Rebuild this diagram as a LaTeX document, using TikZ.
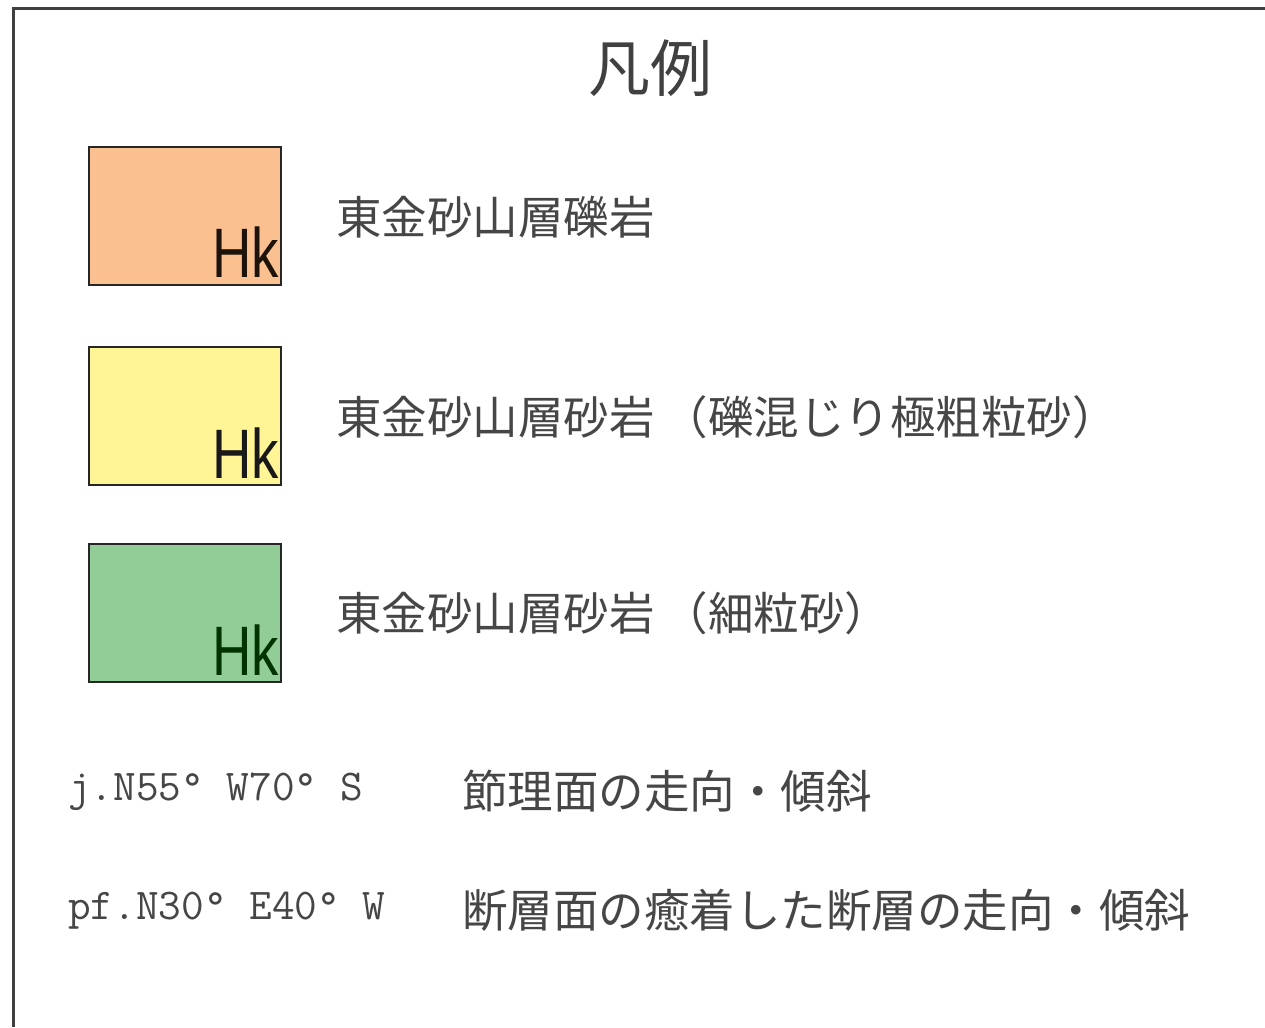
\documentclass[tikz,border=0pt]{standalone}
\usepackage{fontspec}
\usepackage{tikz}
\usetikzlibrary{positioning}
\newfontfamily\jpfont{Noto Sans CJK JP}
\newfontfamily\hkfont[FakeStretch=0.78]{Liberation Sans}
\definecolor{hkorange}{RGB}{250,192,143}
\definecolor{hkyellow}{RGB}{255,244,150}
\definecolor{hkgreen}{RGB}{146,205,152}
\definecolor{inkgray}{RGB}{70,70,70}

\begin{document}
\begin{tikzpicture}[x=1pt,y=-1pt,
    unitbox/.style={draw=black!85,line width=2.8pt,minimum width=192pt,minimum height=138pt,inner sep=0pt},
    hk/.style={inner sep=0pt,font=\hkfont\fontsize{70}{70}\selectfont},
    label/.style={anchor=west,inner sep=0pt,text=inkgray,font=\jpfont\fontsize{45.5}{50}\selectfont},
    code/.style={anchor=west,inner sep=0pt,text=inkgray,font=\ttfamily\fontsize{44}{48}\selectfont}]
  \useasboundingbox (0,0) rectangle (1265,1027);
  \fill[white] (0,0) rectangle (1265,1027);
  % frame, only top and left edge shown
  \draw[line width=3pt,black!75] (13,1027) -- (13,9) -- (1265,9);

  \node[inner sep=0pt,text=black!75,font=\jpfont\fontsize{62}{66}\selectfont] (title) at (650,68) {凡例};

  % legend units
  \node[unitbox,fill=hkorange] (unitA) at (185,216) {};
  \node[unitbox,fill=hkyellow] (unitB) at (185,416) {};
  \node[unitbox,fill=hkgreen]  (unitC) at (185,613) {};
  \node[hk,anchor=base east,text=black!85!brown] (hkA) at (279,277) {Hk};
  \node[hk,anchor=base east,text=black!90] (hkB) at (279,478) {Hk};
  \node[hk,anchor=base east,text=black!80!green] (hkC) at (279,675) {Hk};

  \node[label] (nameA) at (336,217) {東金砂山層礫岩};
  \node[label] (nameB) at (336,417) {東金砂山層砂岩\hspace{8pt}（礫混じり極粗粒砂）};
  \node[label] (nameC) at (336,613) {東金砂山層砂岩\hspace{8pt}（細粒砂）};

  % joint and fault symbols
  \node[code] (joint) at (68,792) {j.N55°\ W70°\ S};
  \node[label] (jointtxt) at (462,791) {節理面の走向・傾斜};
  \node[code] (fault) at (68,911) {pf.N30°\ E40°\ W};
  \node[label] (faulttxt) at (462,910) {断層面の癒着した断層の走向・傾斜};
\end{tikzpicture}
\end{document}
